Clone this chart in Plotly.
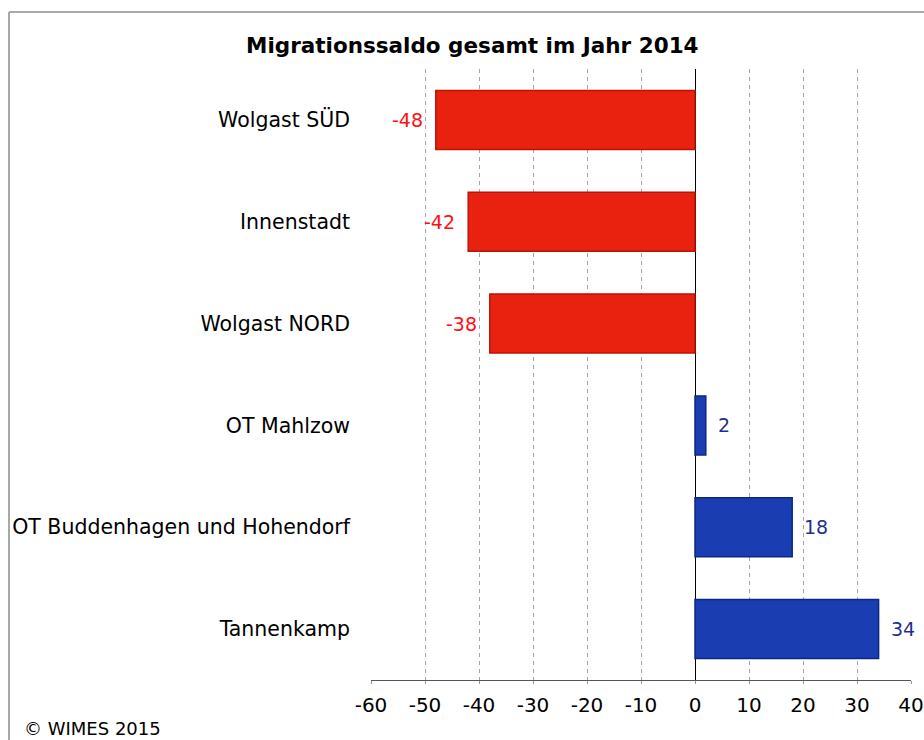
import plotly.graph_objects as go

categories = ["Wolgast SÜD", "Innenstadt", "Wolgast NORD", "OT Mahlzow",
              "OT Buddenhagen und Hohendorf", "Tannenkamp"]
values = [-48, -42, -38, 2, 18, 34]
x_ticks = [-60, -50, -40, -30, -20, -10, 0, 10, 20, 30, 40]
title_text = "Migrationssaldo gesamt im Jahr 2014"
credit_text = "© WIMES 2015"

W, H = 924, 740
L, R, T, B = 371, 13, 69, 60
pw, ph = W - L - R, H - T - B

def px(xp):
    return (xp - L) / pw

def py(yp):
    return (H - B - yp) / ph

FONT = "DejaVu Sans"
RED, RED_EDGE = "#E8220F", "#B8140A"
BLUE, BLUE_EDGE = "#1B3DB2", "#0E2782"

colors = [RED if v < 0 else BLUE for v in values]
edges = [RED_EDGE if v < 0 else BLUE_EDGE for v in values]

fig = go.Figure()
fig.add_trace(go.Bar(
    x=values, y=categories, orientation="h",
    marker=dict(color=colors, line=dict(color=edges, width=1.5)),
    width=0.58, hoverinfo="x+y",
))

for c, v in zip(categories, values):
    fig.add_annotation(
        x=v, y=c, xref="x", yref="y", text=str(v), showarrow=False,
        xanchor="right" if v < 0 else "left",
        xshift=-11 if v < 0 else 10,
        font=dict(family=FONT, size=19, color="#FF1010" if v < 0 else "#1F2F8F"),
    )

fig.add_annotation(
    x=px(472), y=py(45), xref="paper", yref="paper", text="<b>" + title_text + "</b>",
    showarrow=False, xanchor="center", yanchor="middle",
    font=dict(family=FONT, size=21.5, color="black"),
)
fig.add_annotation(
    x=px(22), y=py(728), xref="paper", yref="paper", text=credit_text,
    showarrow=False, xanchor="left", yanchor="middle",
    font=dict(family=FONT, size=18, color="black"),
)

# outer frame (left and top edges visible)
fig.add_shape(type="line", xref="paper", yref="paper",
              x0=px(9), x1=px(9), y0=py(12), y1=py(H + 5),
              line=dict(color="#A8A8A8", width=2))
fig.add_shape(type="line", xref="paper", yref="paper",
              x0=px(9), x1=px(W + 5), y0=py(12), y1=py(12),
              line=dict(color="#A8A8A8", width=2))

fig.update_layout(
    width=W, height=H,
    margin=dict(l=L, r=R, t=T, b=B, autoexpand=False),
    paper_bgcolor="white", plot_bgcolor="white",
    showlegend=False,
    font=dict(family=FONT, size=20, color="black"),
    xaxis=dict(
        range=[-60, 40], tickvals=x_ticks, ticktext=[str(t) for t in x_ticks],
        showgrid=True, gridcolor="#A5A5A5", griddash="4px,4px", gridwidth=1,
        zeroline=True, zerolinecolor="black", zerolinewidth=1,
        showline=True, linecolor="#555555", linewidth=1,
        ticks="outside", ticklen=3, tickcolor="#999999",
        ticklabelstandoff=4,
        tickfont=dict(family=FONT, size=20, color="black"),
        automargin=False, fixedrange=True,
    ),
    yaxis=dict(
        autorange="reversed", showgrid=False, zeroline=False,
        showline=False, ticks="", ticklabelstandoff=20,
        tickfont=dict(family=FONT, size=20.5, color="black"),
        automargin=False, fixedrange=True,
    ),
)

fig.write_html("out.html")
